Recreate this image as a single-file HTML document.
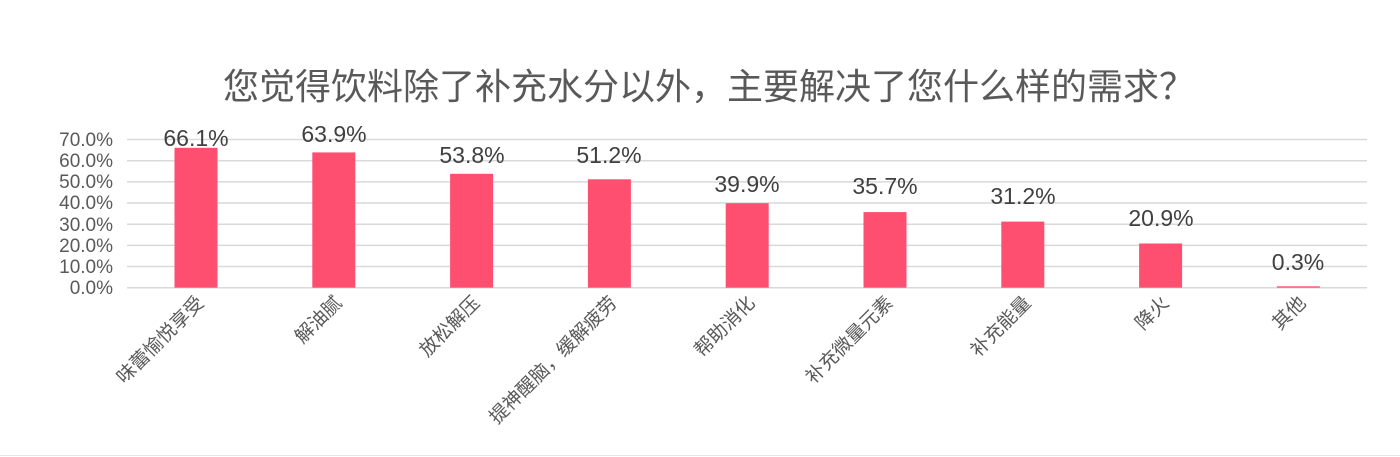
<!DOCTYPE html>
<html><head><meta charset="utf-8"><style>
html,body{margin:0;padding:0;background:#fff;}
svg{display:block;}
text{font-family:"Liberation Sans","Noto Sans CJK SC",sans-serif;}
</style></head><body>
<svg width="1400" height="457" xmlns="http://www.w3.org/2000/svg">
<text x="709" y="99" text-anchor="middle" font-size="36" fill="#595959">您觉得饮料除了补充水分以外，主要解决了您什么样的需求？</text>
<g stroke="#d9d9d9" stroke-width="1.5">
<line x1="127" x2="1367" y1="139.5" y2="139.5"/>
<line x1="127" x2="1367" y1="160.7" y2="160.7"/>
<line x1="127" x2="1367" y1="181.9" y2="181.9"/>
<line x1="127" x2="1367" y1="203.0" y2="203.0"/>
<line x1="127" x2="1367" y1="224.2" y2="224.2"/>
<line x1="127" x2="1367" y1="245.4" y2="245.4"/>
<line x1="127" x2="1367" y1="266.5" y2="266.5"/>
<line x1="127" x2="1367" y1="287.7" y2="287.7"/>
</g>
<line x1="0" x2="1400" y1="455.5" y2="455.5" stroke="#e6e6e6"/>
<g font-size="19" fill="#595959" text-anchor="end">
<text x="113" y="146">70.0%</text>
<text x="113" y="167">60.0%</text>
<text x="113" y="188">50.0%</text>
<text x="113" y="209">40.0%</text>
<text x="113" y="231">30.0%</text>
<text x="113" y="252">20.0%</text>
<text x="113" y="273">10.0%</text>
<text x="113" y="294">0.0%</text>
</g>
<g fill="#ff4f71">
<rect x="174.5" y="147.8" width="43" height="139.9"/>
<rect x="312.3" y="152.4" width="43" height="135.3"/>
<rect x="450.1" y="173.8" width="43" height="113.9"/>
<rect x="587.9" y="179.3" width="43" height="108.4"/>
<rect x="725.7" y="203.2" width="43" height="84.5"/>
<rect x="863.5" y="212.1" width="43" height="75.6"/>
<rect x="1001.3" y="221.6" width="43" height="66.1"/>
<rect x="1139.1" y="243.5" width="43" height="44.2"/>
<rect x="1276.9" y="286.3" width="43" height="1.4"/>
</g>
<g font-size="23" fill="#404040" text-anchor="middle">
<text x="196" y="146">66.1%</text>
<text x="334" y="142">63.9%</text>
<text x="472" y="163">53.8%</text>
<text x="609" y="163">51.2%</text>
<text x="747" y="192">39.9%</text>
<text x="885" y="194">35.7%</text>
<text x="1023" y="204">31.2%</text>
<text x="1161" y="226">20.9%</text>
<text x="1298" y="270">0.3%</text>
</g>
<g font-size="19" fill="#595959" text-anchor="end">
<text transform="translate(205,304) rotate(-45)">味蕾愉悦享受</text>
<text transform="translate(343,304) rotate(-45)">解油腻</text>
<text transform="translate(481,304) rotate(-45)">放松解压</text>
<text transform="translate(618,304) rotate(-45)">提神醒脑，缓解疲劳</text>
<text transform="translate(756,304) rotate(-45)">帮助消化</text>
<text transform="translate(894,304) rotate(-45)">补充微量元素</text>
<text transform="translate(1032,304) rotate(-45)">补充能量</text>
<text transform="translate(1170,304) rotate(-45)">降火</text>
<text transform="translate(1307,304) rotate(-45)">其他</text>
</g>
</svg>
</body></html>
